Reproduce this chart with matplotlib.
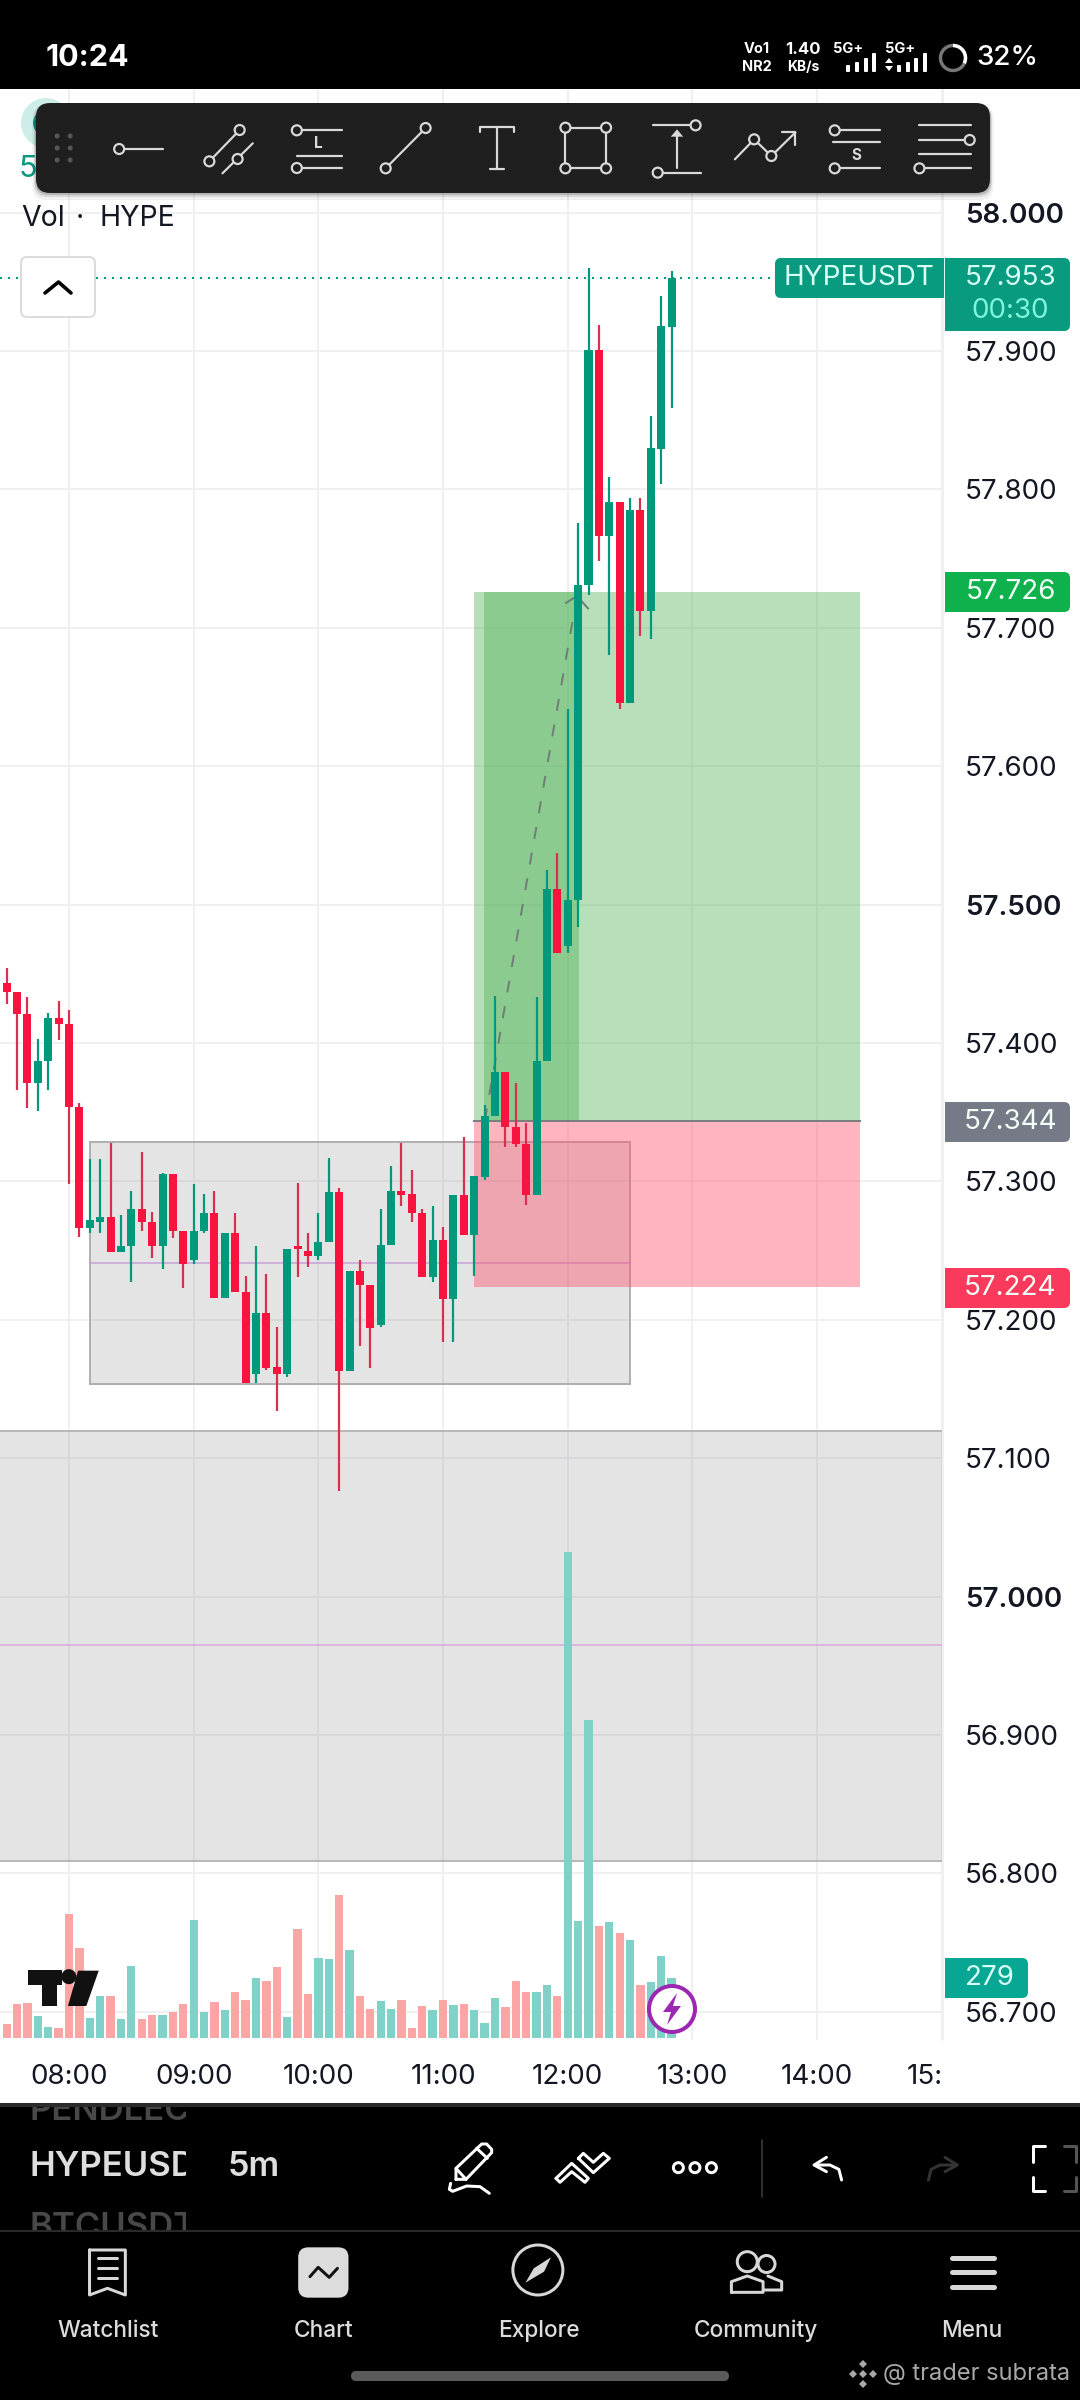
import matplotlib
matplotlib.use("Agg")
import matplotlib.pyplot as plt
from matplotlib.patches import Rectangle, Circle, FancyBboxPatch, Polygon, Arc

plt.rcParams['font.family'] = ['Inter', 'Roboto', 'DejaVu Sans']

# ---------- data ----------
bar_index = list(range(-7, 59))
opens = [57.462,57.443,57.437,57.421,57.371,57.387,57.418,57.414,57.354,57.266,57.271,57.274,57.249,57.253,57.280,57.271,57.253,57.305,57.264,57.243,57.264,57.277,57.216,57.263,57.220,57.161,57.205,57.166,57.161,57.252,57.250,57.246,57.256,57.292,57.163,57.235,57.225,57.196,57.254,57.293,57.291,57.277,57.231,57.258,57.215,57.290,57.261,57.303,57.347,57.379,57.339,57.327,57.290,57.387,57.511,57.470,57.503,57.731,57.901,57.766,57.791,57.646,57.785,57.712,57.829,57.917]
highs = [57.470,57.454,57.437,57.433,57.403,57.422,57.430,57.424,57.357,57.316,57.316,57.328,57.276,57.293,57.321,57.278,57.306,57.305,57.264,57.298,57.291,57.293,57.263,57.277,57.232,57.253,57.233,57.195,57.251,57.299,57.263,57.277,57.317,57.295,57.235,57.243,57.225,57.280,57.311,57.328,57.308,57.280,57.282,57.267,57.290,57.332,57.304,57.355,57.434,57.379,57.371,57.342,57.433,57.525,57.537,57.641,57.776,57.960,57.919,57.809,57.791,57.794,57.794,57.853,57.940,57.958]
lows = [57.440,57.428,57.366,57.353,57.351,57.366,57.402,57.298,57.260,57.263,57.263,57.249,57.249,57.227,57.264,57.245,57.237,57.259,57.223,57.240,57.263,57.216,57.216,57.220,57.154,57.154,57.164,57.134,57.159,57.231,57.238,57.243,57.256,57.076,57.163,57.181,57.165,57.195,57.254,57.282,57.271,57.231,57.227,57.184,57.184,57.261,57.232,57.301,57.347,57.325,57.325,57.283,57.290,57.387,57.465,57.465,57.484,57.724,57.748,57.680,57.641,57.646,57.694,57.692,57.804,57.859]
closes = [57.448,57.437,57.421,57.371,57.387,57.418,57.414,57.354,57.266,57.272,57.274,57.249,57.253,57.280,57.271,57.253,57.305,57.264,57.240,57.264,57.277,57.216,57.263,57.220,57.154,57.205,57.165,57.161,57.251,57.251,57.246,57.256,57.292,57.163,57.235,57.225,57.194,57.254,57.293,57.290,57.277,57.231,57.258,57.215,57.290,57.261,57.304,57.347,57.379,57.339,57.327,57.290,57.387,57.511,57.465,57.503,57.731,57.901,57.766,57.791,57.646,57.785,57.712,57.830,57.918,57.953]
volumes = [98,64,157,164,101,50,45,575,420,91,194,194,87,333,87,105,105,119,157,547,119,166,129,212,175,277,264,329,96,505,203,370,366,663,408,194,133,170,133,175,45,147,129,175,152,157,129,68,184,143,264,212,212,245,194,2258,543,1477,519,538,487,454,245,259,380,279]

price_ticks = [58.0,57.9,57.8,57.7,57.6,57.5,57.4,57.3,57.2,57.1,57.0,56.9,56.8,56.7]
bold_prices = [58.0,57.5,57.0]
hour_labels = ['08:00','09:00','10:00','11:00','12:00','13:00','14:00','15:00']
hour_bars = [0,12,24,36,48,60,72,84]
last_price = 57.953
target_price, entry_price, stop_price = 57.726, 57.344, 57.224

W, H = 1080, 2400
GREEN, RED, WICK_RED = '#00997b', '#f9133f', '#d8304f'
fig = plt.figure(figsize=(W/100, H/100), dpi=100, facecolor='white')
px = 0.72

# pixel frame of the chart pane
PL, PR, PT, PB = 0, 942, 89, 2040
BAR_PX = 10.39; X0 = 69
xl = ((PL-X0)/BAR_PX, (PR-X0)/BAR_PX)
P_PER_PX = 1/1384
yl = (57.9-(PB-351)*P_PER_PX, 57.9+(351-PT)*P_PER_PX)

ax = fig.add_axes([PL/W, 1-PB/H, (PR-PL)/W, (PB-PT)/H], zorder=1)
ax.set_xlim(xl); ax.set_ylim(yl)
for s in ax.spines.values(): s.set_visible(False)
ax.set_axisbelow(True)
ax.grid(True, color='#f0f0f3', lw=2*px)
ax.yaxis.tick_right()
ax.set_yticks(price_ticks); ax.set_yticklabels([f'{p:.3f}' for p in price_ticks])
ax.set_xticks(hour_bars); ax.set_xticklabels(hour_labels)
ax.tick_params(axis='y', length=0, pad=16.5, labelsize=20, labelcolor='#131722')
ax.tick_params(axis='x', length=0, pad=17, labelsize=20, labelcolor='#131722')
for t, p in zip(ax.get_yticklabels(), price_ticks):
    if p in bold_prices: t.set_fontweight('semibold')

# drawing zones
gray = '#7a7a7a'
def bx(p): return (p-X0)/BAR_PX
ax.add_patch(Rectangle((xl[0], 56.809), xl[1]-xl[0], 57.1197-56.809, fc=gray, alpha=.2, ec='none', zorder=1.1))
ax.plot(xl, [57.1197]*2, color='#b8b8b8', lw=2*px, zorder=1.2)
ax.plot(xl, [56.809]*2, color='#b8b8b8', lw=2*px, zorder=1.2)
ax.plot(xl, [56.965]*2, color='#d8a8dc', lw=1.5*px, zorder=1.2)
gx0, gx1 = bx(90), bx(629.5)
ax.add_patch(Rectangle((gx0, 57.1536), gx1-gx0, 57.3285-57.1536, fc=gray, alpha=.2, ec='none', zorder=1.3))
ax.add_patch(Rectangle((gx0, 57.1536), gx1-gx0, 57.3285-57.1536, fc='none', ec='#b0b0b0', lw=2*px, zorder=1.3))
ax.plot([gx0, gx1], [57.241]*2, color='#c9a0d8', lw=1.5*px, zorder=1.4)
lx0, lx1 = bx(474), bx(860)
ax.add_patch(Rectangle((lx0, entry_price), lx1-lx0, target_price-entry_price, fc='#4caf50', alpha=.4, ec='none', zorder=1.5))
ax.add_patch(Rectangle((lx0, stop_price), lx1-lx0, entry_price-stop_price, fc='#ff526b', alpha=.43, ec='none', zorder=1.5))
dx0, dx1 = bx(484), bx(579)
ax.add_patch(Rectangle((dx0, entry_price), dx1-dx0, target_price-entry_price, fc='#4caf50', alpha=.4, ec='none', zorder=1.6))
ax.plot([lx0, lx1], [entry_price]*2, color='#7b7f80', lw=2*px, zorder=1.7)
ax.plot([bx(484.8), bx(577)], [entry_price, 57.723], color='#6f7f76', lw=2*px, dashes=(6, 7), zorder=1.8)
ax.plot([bx(566), bx(577), bx(588)], [57.718, 57.723, 57.714], color='#6f7f76', lw=2*px, zorder=1.8)
ax.plot([xl[0], bx(775)], [last_price]*2, color='#089981', lw=2*px, dashes=(1, 3), zorder=1.8)

# candles
for i, o, h, l, c in zip(bar_index, opens, highs, lows, closes):
    up = c >= o
    ax.vlines(i, l, h, color=GREEN if up else WICK_RED, lw=2.2*px, zorder=3)
    ax.bar(i, max(abs(c-o), .002), bottom=min(o, c), width=.77, color=GREEN if up else RED, lw=0, zorder=3.1)

# volume pane shares the x axis, bottom at 2038 px
VB, VT = 2038, 1400
vax = fig.add_axes([PL/W, 1-VB/H, (PR-PL)/W, (VB-VT)/H], zorder=2)
vax.patch.set_alpha(0); vax.axis('off')
vax.set_xlim(xl); vax.set_ylim(0, (VB-VT)*4.65)
vax.bar(bar_index, volumes, width=.8, lw=0,
        color=['#80d2c8' if c >= o else '#fca5a5' for o, c in zip(opens, closes)])

# ---------- interface layer, in screen pixels ----------
ui = fig.add_axes([0, 0, 1, 1], zorder=5)
ui.set_xlim(0, W); ui.set_ylim(H, 0); ui.axis('off'); ui.patch.set_alpha(0)
def rect(x0, y0, x1, y1, c, z=1, **k): ui.add_patch(Rectangle((x0, y0), x1-x0, y1-y0, fc=c, ec='none', zorder=z, **k))
def rrect(x0, y0, x1, y1, c, r=6, ec='none', lw=0, z=2, a=1):
    ui.add_patch(FancyBboxPatch((x0+r, y0+r), x1-x0-2*r, y1-y0-2*r, boxstyle=f'round,pad={r},rounding_size={r}', fc=c, ec=ec, lw=lw, zorder=z, alpha=a))
def tx(x, y, s, size=20, c='white', ha='center', w='normal', z=6, **k):
    return ui.text(x, y, s, fontsize=size, color=c, ha=ha, va='center', fontweight=w, zorder=z, **k)

# covers outside pane
rect(0, 0, W, PT, 'black')
rect(942.5, 2040, W, 2104, 'white', z=1)
rect(0, 2104, W, H, 'black', z=1)
rect(0, 2103, W, 2107, '#2b2b2b', z=1.1)
rect(0, 2230, W, 2232, '#2a2a2a', z=4)
ui.plot([942.5, 942.5], [PT, 2040], color='#f0f0f3', lw=2*px, zorder=.9)

# status bar
tx(46, 58, '10:24', 22, ha='left', w='bold')
tx(757, 49, 'Vo1', 10.5, w='bold'); tx(757, 67, 'NR2', 10.5, w='bold')
tx(803, 50, '1.40', 12, w='bold'); tx(803, 67, 'KB/s', 10, w='bold')
tx(848, 49, '5G+', 10.5, w='bold'); tx(900, 49, '5G+', 10.5, w='bold')
for xs in [(848, 857, 866, 874), (899, 908, 916, 925)]:
    for x, top in zip(xs, (65, 62, 58, 53)):
        rrect(x-2, top, x+2, 72, 'white', r=1, z=2)
ui.add_patch(Polygon([(889, 58), (885, 63), (893, 63)], fc='white', zorder=2))
ui.add_patch(Polygon([(889, 71), (885, 66), (893, 66)], fc='white', zorder=2))
ui.add_patch(Circle((953, 58), 12.5, fc='none', ec='#777', lw=3.4*px, zorder=2))
ui.add_patch(Arc((953, 58), 25, 25, theta1=-90, theta2=25, ec='white', lw=3.4*px, zorder=3))
tx(976, 58, '32%', 20, ha='left', w='medium')

# pane header
ui.add_patch(Circle((46, 123), 25, fc='#cdeee8', ec='none', zorder=1))
ui.add_patch(Circle((46, 123), 13, fc='#089981', ec='none', zorder=1))
tx(19, 169, '5', 22, '#089981', ha='left', z=1.5)
tx(21, 218, 'Vol', 20.5, '#131722', ha='left')
tx(80, 218, '·', 20.5, '#131722')
tx(99, 218, 'HYPE', 20.5, '#131722', ha='left')
for k, a in [(7, .06), (4, .1), (2, .15)]:
    rrect(36-k/2, 103+2, 990+k/2, 193+k, 'black', r=14, a=a, z=2)
rrect(36, 103, 990, 193, '#1f1f1f', r=14, z=2.5)
rrect(21, 257, 95, 317, 'white', r=6, ec='#dcdcdc', lw=2*px, z=2)
ui.plot([45, 58.5, 71], [293, 282, 293], color='black', lw=3.6*px, zorder=3, solid_capstyle='round')

# toolbar icons (sizes in crop units)
Z = lambda x, y: (x/1.452, y/3)
IC = '#d9d9d9'
def L(*pts, c=IC, lw=2.2, z=3):
    xs, ys = zip(*[Z(*p) for p in pts]); ui.plot(xs, ys, color=c, lw=lw*px, zorder=z, solid_capstyle='round', solid_joinstyle='round')
def O(x, y, r=5, bg='#1f1f1f', c=IC, lw=2.2):
    ui.add_patch(Circle(Z(x, y), r, fc=bg, ec=c, lw=lw*px, zorder=3.5))
for gx in (83, 102):
    for gy in (408, 444, 480):
        ui.add_patch(Circle(Z(gx, gy), 2.5, fc='#565656', ec='none', zorder=3))
L((173, 447), (237, 447)); O(173, 447)
L((304, 484), (348, 390)); O(304, 484); O(348, 390); L((323, 520), (367, 430)); O(345, 477)
L((431, 391), (497, 391)); O(431, 391); L((431, 468), (497, 468)); L((431, 504), (497, 504)); O(431, 504)
tx(*Z(462, 432), 'L', 11, IC, w='bold')
L((560, 505), (618, 384)); O(560, 505); O(618, 384)
L((697, 395), (697, 382), (747, 382), (747, 395)); L((722, 382), (722, 507)); L((712, 507), (732, 507))
L((821, 383), (880, 383), (880, 505), (821, 505), (821, 383))
for p in [(821, 383), (880, 383), (821, 505), (880, 505)]: O(*p)
L((948, 376), (1010, 376)); O(1010, 376); L((983, 395), (983, 505)); L((955, 518), (1018, 518)); O(955, 518)
ui.add_patch(Polygon([Z(983, 388), Z(974, 410), Z(992, 410)], fc=IC, zorder=3))
L((1067, 478), (1095, 418), (1120, 468), (1155, 397)); O(1095, 418); O(1120, 468)
L((1135, 397), (1155, 397), (1155, 436))
L((1212, 391), (1278, 391)); O(1212, 391); L((1210, 425), (1278, 425)); L((1212, 505), (1278, 505)); O(1212, 505)
tx(*Z(1244, 465), 'S', 11, IC, w='bold')
L((1335, 376), (1410, 376)); L((1335, 420), (1408, 420)); O(1408, 420); L((1335, 462), (1410, 462)); L((1335, 505), (1410, 505)); O(1335, 505)

# price tags
rrect(775, 258, 948, 298, '#089b7f', r=6)
rect(944, 257, 946, 299, '#d8fff5', z=2.5)
rrect(945, 258, 1070, 331, '#089b7f', r=6, z=2.6)
rect(945, 258, 952, 331, '#089b7f', z=2.7)
tx(859, 278, 'HYPEUSDT', 20, '#d8fff5')
tx(1010.5, 278, f'{last_price:.3f}', 20, '#d8fff5')
tx(1010.5, 311, '00:30', 20, '#7ff5dc')
for y0, y1, col, val in [(572, 612, '#0fb14c', target_price), (1102, 1142, '#767a87', entry_price), (1268, 1308, '#f93a5c', stop_price)]:
    rrect(945, y0, 1070, y1, col, r=6); rect(945, y0, 952, y1, col, z=2.2)
    tx(1010.5, (y0+y1)/2, f'{val:.3f}', 20, '#f2fff6')
rrect(945, 1958, 1028, 1998, '#07a794', r=6); rect(945, 1958, 952, 1998, '#07a794', z=2.2)
tx(990, 1978, str(volumes[-1]), 20, '#d8fff5')

# TV logo and bolt
ZV = lambda x, y: (x/2.178, 1860+y/3)
ui.add_patch(Polygon([ZV(*p) for p in [(60, 330), (135, 330), (135, 375), (125, 375), (125, 438), (92, 438), (92, 375), (60, 375)]], fc='#111', zorder=3))
ui.add_patch(Circle(ZV(150, 350), 7.5, fc='#111', zorder=3))
ui.add_patch(Polygon([ZV(*p) for p in [(170, 332), (215, 332), (188, 438), (148, 438)]], fc='#111', zorder=3))
ui.add_patch(Circle((672, 2009), 23, fc='white', ec='#9c27b0', lw=4*px, zorder=3))
ui.add_patch(Polygon([(677, 1993), (663, 2012), (671, 2012), (667, 2025), (681, 2006), (673, 2006)], fc='#9c27b0', zorder=3.1))

# bottom bar
Y = lambda x, y: (x/1.452, 2040+y/3)
Q = lambda x, y: (430+x/3, 2130+y/3)
clip = Rectangle((0, 2107), 186, 123, transform=ui.transData)
for y, s, col in [(2111, 'PENDLECUSDT', '#484848'), (2167, 'HYPEUSDT', '#dedede'), (2228, 'BTCUSDT', '#484848')]:
    t = tx(29, y, s, 25, col, ha='left', w='semibold'); t.set_clip_path(clip); t.set_clip_on(True)
tx(228, 2167, '5m', 24.5, '#dedede', ha='left', w='semibold')
def LB(*pts, c='white', lw=3):
    xs, ys = zip(*[Y(*p) for p in pts]); ui.plot(xs, ys, color=c, lw=lw*px, zorder=3, solid_capstyle='round', solid_joinstyle='round')
def LQ(*pts, c='white', lw=3):
    xs, ys = zip(*[Q(*p) for p in pts]); ui.plot(xs, ys, color=c, lw=lw*px, zorder=3, solid_capstyle='round', solid_joinstyle='round')
def OB(x, y, r, c='white', lw=3, bg='black'):
    ui.add_patch(Circle(Y(x, y), r, fc=bg, ec=c, lw=lw*px, zorder=3))
LQ((78, 148), (78, 115), (155, 42), (170, 42), (185, 58), (185, 68), (108, 148), (78, 148))
LQ((140, 55), (172, 85)); LQ((78, 115), (108, 148))
LQ((62, 160), (58, 178), (68, 184), (110, 168), (150, 170), (178, 190))
LQ((378, 145), (425, 100), (475, 145), (465, 157), (425, 125), (390, 157), (378, 145))
LQ((445, 85), (460, 70), (490, 97), (520, 70), (538, 85), (490, 128), (445, 85))
for x in (985, 1009, 1033): OB(x, 383, 5)
LB((1106, 300), (1106, 470), c='#2e2e2e', lw=2)
LB((1222, 420), (1218, 388), (1205, 375), (1185, 375)); LB((1200, 352), (1182, 375), (1200, 395))
LB((1348, 420), (1352, 388), (1365, 375), (1388, 375), c='#333'); LB((1372, 352), (1390, 375), (1372, 395), c='#333')
LB((1518, 318), (1500, 318), (1500, 365)); LB((1500, 410), (1500, 452), (1518, 452))
LB((1545, 318), (1562, 318), (1562, 365), c='#555'); LB((1562, 410), (1562, 452), (1545, 452), c='#555')
# nav
LB((130, 630), (182, 630), (182, 765), (156, 745), (130, 765), (130, 630), c='#d8d8d8')
for y in (655, 685, 715): LB((143, y), (170, y), c='#d8d8d8')
rrect(*Y(433, 622), *Y(506, 773), '#dcdcdc', r=10, z=2)
LB((450, 710), (462, 682), (478, 712), (490, 685), c='#111')
OB(781, 690, 25, c='#d8d8d8')
ui.add_patch(Polygon([Y(763, 728), Y(775, 685), Y(800, 652), Y(790, 695)], fc='#d8d8d8', zorder=3.2))
OB(1085, 665, 10, c='#d8d8d8'); OB(1113, 672, 8.5, c='#d8d8d8')
LB((1062, 757), (1062, 725), (1085, 708), (1108, 725), (1108, 757), (1062, 757), c='#d8d8d8')
LB((1115, 708), (1135, 725), (1135, 750), (1110, 750), c='#d8d8d8')
for y in (655, 697, 740): LB((1382, y), (1443, y), c='#d8d8d8', lw=5)
for x, s in [(108, 'Watchlist'), (324, 'Chart'), (539, 'Explore'), (755.5, 'Community'), (972, 'Menu')]:
    tx(x, 2331, s, 16.3, '#dcdcdc', w='medium')
rrect(351, 2371, 729, 2381, '#5a5a5a', r=5)
for dx, dy in [(0, -10), (0, 10), (-10, 0), (10, 0), (0, 0)]:
    ui.add_patch(Polygon([(863+dx, 2374+dy-4), (863+dx+4, 2374+dy), (863+dx, 2374+dy+4), (863+dx-4, 2374+dy)], fc='#a8a8a8', zorder=3))
tx(883, 2374, '@ trader subrata', 17, '#a8a8a8', ha='left')

fig.savefig('out.png', dpi=100, facecolor='white')
